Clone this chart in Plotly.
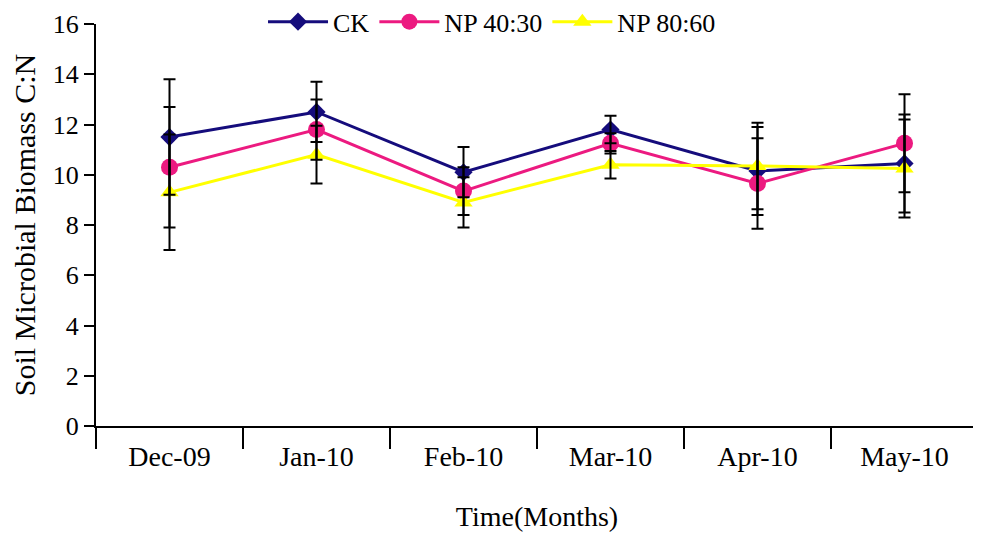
import plotly.graph_objects as go

months = ["Dec-09", "Jan-10", "Feb-10", "Mar-10", "Apr-10", "May-10"]

ck = [11.5, 12.5, 10.1, 11.8, 10.15, 10.45]
ck_err = [2.3, 1.2, 1.0, 0.55, 1.75, 1.95]

np4030 = [10.3, 11.8, 9.35, 11.25, 9.65, 11.25]
np4030_err = [2.4, 1.2, 0.95, 0.4, 1.8, 1.95]

np8060 = [9.3, 10.8, 8.9, 10.4, 10.35, 10.25]
np8060_err = [2.3, 1.15, 1.0, 0.55, 1.72, 1.95]

series = [
    ("CK", ck, ck_err, "#150c7c", "diamond", 14),
    ("NP 40:30", np4030, np4030_err, "#ec1a80", "circle", 17),
    ("NP 80:60", np8060, np8060_err, "#ffff00", "triangle-up", 16),
]

FONT = "Liberation Serif, Times New Roman, serif"

fig = go.Figure()
for name, vals, err, col, sym, sz in series:
    fig.add_trace(go.Scatter(
        x=months, y=vals, name=name, mode="lines+markers",
        line=dict(color=col, width=3),
        marker=dict(symbol=sym, size=sz, color=col),
    ))
for name, vals, err, col, sym, sz in series:
    fig.add_trace(go.Scatter(
        x=months, y=vals, mode="markers", showlegend=False, hoverinfo="skip",
        marker=dict(size=1, opacity=0),
        error_y=dict(type="data", array=err, visible=True,
                     color="black", thickness=2, width=6),
    ))

fig.update_layout(
    width=973, height=528,
    margin=dict(l=88, r=3, t=16, b=110, autoexpand=False),
    paper_bgcolor="white", plot_bgcolor="white",
    font=dict(family=FONT, color="black", size=24),
    showlegend=True,
    legend=dict(orientation="h", x=0.449, xanchor="center",
                yref="container", y=0.974, yanchor="middle",
                font=dict(family=FONT, size=26, color="black"),
                bgcolor="rgba(255,255,255,0)", itemwidth=60, tracegroupgap=0),
    xaxis=dict(
        type="category", range=[-0.5, 5.5], tickson="boundaries",
        ticks="outside", ticklen=21, tickwidth=2, tickcolor="black",
        showline=True, linecolor="black", linewidth=2, showgrid=False,
        zeroline=False, tickfont=dict(family=FONT, size=28),
        ticklabelstandoff=4,
        title=dict(text="Time(Months)", font=dict(family=FONT, size=28), standoff=36),
        automargin=False,
    ),
    yaxis=dict(
        range=[0, 16], dtick=2, tick0=0,
        ticks="outside", ticklen=10, tickwidth=2, tickcolor="black",
        showline=True, linecolor="black", linewidth=2, showgrid=False,
        zeroline=False, tickfont=dict(family=FONT, size=26),
        title=dict(text="Soil Microbial Biomass C:N", font=dict(family=FONT, size=30), standoff=14),
        automargin=False,
    ),
)

fig.write_html("out.html")
